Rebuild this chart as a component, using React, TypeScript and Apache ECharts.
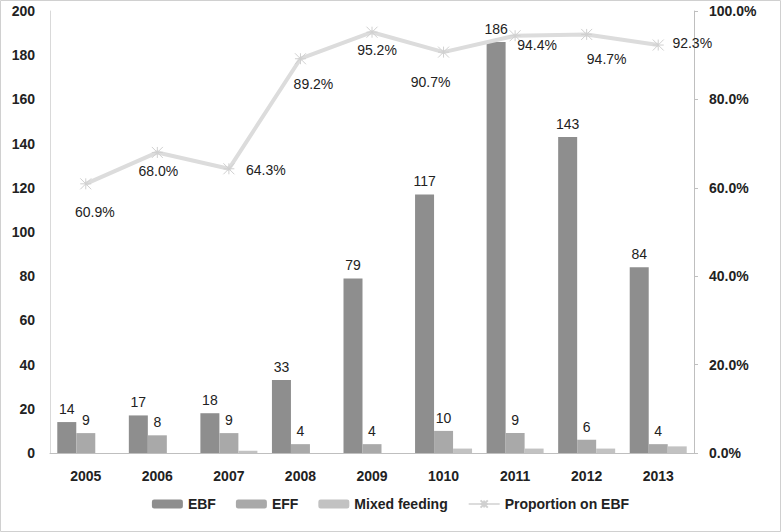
import React, { useEffect, useRef } from "react";
import * as echarts from "echarts";

const categories = ["2005", "2006", "2007", "2008", "2009", "1010", "2011", "2012", "2013"];
const ebf = [14, 17, 18, 33, 79, 117, 186, 143, 84];
const eff = [9, 8, 9, 4, 4, 10, 9, 6, 4];
const mixed = [0, 0, 1, 0, 0, 2, 2, 2, 3];
const proportion = [60.9, 68.0, 64.3, 89.2, 95.2, 90.7, 94.4, 94.7, 92.3];
const labelOffsets: [number, number][] = [
  [9, 28], [1, 19], [37, 1], [13, 25], [5, 18], [-13, 30], [22, 9], [20, 25], [34, -2],
];

const FONT = "Liberation Sans";

export default function App() {
  const ref = useRef<HTMLDivElement>(null);
  useEffect(() => {
    if (!ref.current) return;
    const chart = echarts.init(ref.current, null, { renderer: "svg" });
    const star = "path://M0,0 L10,10 M10,0 L0,10 M5,0 L5,10 M0,5 L10,5";
    const barLabel = {
      show: true,
      position: "top",
      fontFamily: FONT,
      fontSize: 14,
      color: "#222222",
      textBorderWidth: 0,
      distance: 6,
    };
    chart.setOption({
      animation: false,
      backgroundColor: "#ffffff",
      textStyle: { fontFamily: FONT },
      graphic: [
        {
          type: "rect",
          shape: { x: 0.5, y: 0.5, width: 780, height: 531 },
          style: { fill: "none", stroke: "#d0d0d0", lineWidth: 1 },
          silent: true,
        },
      ],
      grid: { left: 50, right: 87, top: 11, bottom: 79, containLabel: false },
      legend: {
        bottom: 16,
        left: "center",
        itemWidth: 31,
        itemHeight: 9,
        itemGap: 20,
        textStyle: { fontFamily: FONT, fontSize: 14, fontWeight: "bold", color: "#222" },
        data: ["EBF", "EFF", "Mixed feeding", "Proportion on EBF"],
      },
      xAxis: {
        type: "category",
        data: categories,
        axisLine: { show: true, lineStyle: { color: "#bfbfbf" } },
        axisTick: { show: false },
        axisLabel: { fontFamily: FONT, fontSize: 14, fontWeight: "bold", color: "#222", margin: 16 },
      },
      yAxis: [
        {
          type: "value",
          min: 0,
          max: 200,
          interval: 20,
          axisLine: { show: true, lineStyle: { color: "#d9d9d9" } },
          axisTick: { show: false },
          splitLine: { show: false },
          axisLabel: { fontFamily: FONT, fontSize: 14, fontWeight: "bold", color: "#222", margin: 15 },
        },
        {
          type: "value",
          min: 0,
          max: 100,
          interval: 20,
          position: "right",
          axisLine: { show: true, lineStyle: { color: "#bfbfbf" } },
          axisTick: { show: true, length: 4, lineStyle: { color: "#bfbfbf" } },
          splitLine: { show: false },
          axisLabel: {
            fontFamily: FONT,
            fontSize: 14,
            fontWeight: "bold",
            color: "#222",
            margin: 15,
            formatter: (v: number) => v.toFixed(1) + "%",
          },
        },
      ],
      series: [
        {
          name: "EBF",
          type: "bar",
          data: ebf,
          barWidth: 19,
          barGap: "0%",
          itemStyle: { color: "#8e8e8e" },
          label: barLabel,
        },
        {
          name: "EFF",
          type: "bar",
          data: eff,
          barWidth: 19,
          barGap: "0%",
          itemStyle: { color: "#a9a9a9" },
          label: barLabel,
        },
        {
          name: "Mixed feeding",
          type: "bar",
          data: mixed,
          barWidth: 19,
          barGap: "0%",
          itemStyle: { color: "#c2c2c2" },
        },
        {
          name: "Proportion on EBF",
          type: "line",
          yAxisIndex: 1,
          data: proportion.map((v, i) => ({
            value: v,
            label: { offset: labelOffsets[i] },
          })),
          symbol: star,
          symbolSize: 11,
          lineStyle: { color: "#dcdcdc", width: 4 },
          itemStyle: { color: "#dcdcdc", borderColor: "#d0d0d0", borderWidth: 1 },
          label: {
            show: true,
            position: "inside",
            fontFamily: FONT,
            fontSize: 14,
            color: "#222222",
            textBorderWidth: 0,
            formatter: (p: any) => Number(p.value).toFixed(1) + "%",
          },
          z: 5,
        },
      ],
    });
    return () => chart.dispose();
  }, []);
  return (
    <div
      ref={ref}
      style={{ position: "fixed", left: 0, top: 0, width: 781, height: 532 }}
    />
  );
}
